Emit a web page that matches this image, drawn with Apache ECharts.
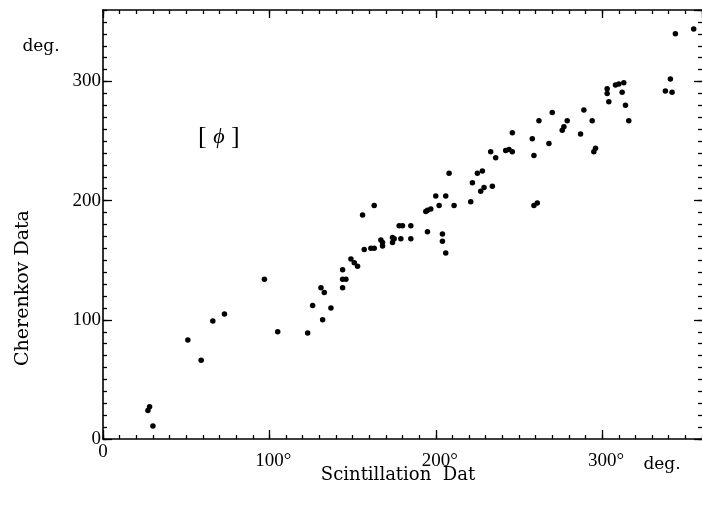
<!DOCTYPE html>
<html><head><meta charset="utf-8">
<script src="https://cdn.jsdelivr.net/npm/echarts@6/dist/echarts.min.js"></script>
<style>html,body{margin:0;padding:0;background:#fff}#c{width:702px;height:517px}</style>
</head><body><div id="c"></div>
<script>
// Scintillation (x, deg.) vs Cherenkov (y, deg.)
const scintX = [27,28,30,51,59,66,73,97,105,123,126,131,133,132,137,
144,144,146,144,149,151,153,156,157,161,163,163,167,168,168,174,174,175,178,180,179,185,185,195,194,195,197,200,202,204,204,206,206,208,211,221,222,225,228,227,229,234,233,236,242,244,246,246,258,259,259,261,262,268,270,276,277,279,287,289,294,295,296,304,303,303,308,310,313,312,314,316,338,341,342,344,355];
const cherenkovY = [24,27,11,83,66,99,105,134,90,89,112,127,123,100,110,
142,134,134,127,151,148,145,188,159,160,160,196,167,162,165,169,165,168,179,179,168,179,168,174,191,192,193,204,196,172,166,156,204,223,196,199,215,223,225,208,211,212,241,236,242,243,241,257,252,238,196,198,267,248,274,259,262,267,256,276,267,241,244,283,290,294,297,298,299,291,280,267,292,302,291,340,344];
const xTickValues = [0,100,200,300];
const yTickValues = [0,100,200,300];
const axisMin = 0, axisMax = 360;

const serif = '"Liberation Serif", "DejaVu Serif", serif';
const wide = '"DejaVu Serif", serif';
const pts = scintX.map((x,i)=>[x, cherenkovY[i]]);

function mkAxis(pos, interval, len, labels, isX, showLine){
  return {
    type:'value', position:pos, min:axisMin, max:axisMax, interval:interval,
    axisLine:{show:showLine, onZero:false, lineStyle:{color:'#000', width:1.6}},
    axisTick:{show:true, inside:true, length:len, lineStyle:{color:'#000', width:1.3}},
    splitLine:{show:false},
    axisLabel: labels ? (isX ? {
      show:true, margin:4, showMaxLabel:false, color:'#000', fontFamily:serif, fontSize:19,
      formatter: v => xTickValues.includes(v) ? (v===0 ? '{z|0}' : '{n|'+v+'°}') : '',
      rich:{z:{fontFamily:serif,fontSize:19,color:'#000'}, n:{fontFamily:serif,fontSize:19,color:'#000',padding:[9,0,0,8]}}
    } : {
      show:true, margin:2, showMaxLabel:false, color:'#000', fontFamily:serif, fontSize:19,
      formatter: v => yTickValues.includes(v) ? String(v) : ''
    }) : {show:false}
  };
}

const chart = echarts.init(document.getElementById('c'), null, {renderer:'canvas'});
chart.setOption({
  animation:false,
  backgroundColor:'#fff',
  grid:{left:103, top:10, right:0, bottom:78, containLabel:false},
  xAxis:[
    mkAxis('bottom',100,9,true,true,true),
    mkAxis('bottom',10,4,false,true,false),
    mkAxis('top',100,8,false,true,true),
    mkAxis('top',10,4,false,true,false)
  ],
  yAxis:[
    mkAxis('left',100,9,true,false,true),
    mkAxis('left',10,4,false,false,false),
    mkAxis('right',100,8,false,false,false),
    mkAxis('right',10,4,false,false,false)
  ],
  series:[{
    type:'scatter', xAxisIndex:0, yAxisIndex:0, data:pts,
    symbol:'circle', symbolSize:5.5, itemStyle:{color:'#000', opacity:1}, silent:true
  }],
  graphic:[
    {type:'text', x:41, y:47, style:{text:'deg.', fill:'#000', font:'17px '+wide, textAlign:'center', textVerticalAlign:'middle'}},
    {type:'text', x:662, y:465, style:{text:'deg.', fill:'#000', font:'17px '+wide, textAlign:'center', textVerticalAlign:'middle'}},
    {type:'text', x:398, y:475, style:{text:'Scintillation  Dat', fill:'#000', font:'18px '+wide, textAlign:'center', textVerticalAlign:'middle'}},
    {type:'text', x:23, y:288, rotation:Math.PI/2, style:{text:'Cherenkov Data', fill:'#000', font:'19px '+wide, textAlign:'center', textVerticalAlign:'middle'}},
    {type:'text', left:198, top:124, style:{text:'[ {i|ϕ} ]', fill:'#000', font:'26px '+serif,
      rich:{i:{fontFamily:serif, fontSize:22, fontStyle:'italic', fill:'#000'}}}}
  ]
});
</script></body></html>
